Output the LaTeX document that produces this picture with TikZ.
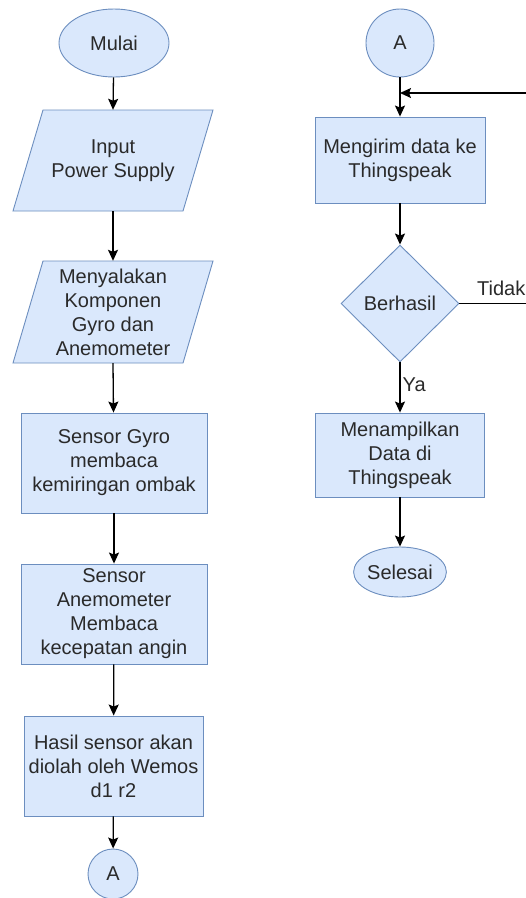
\documentclass[tikz,border=0pt]{standalone}
\usepackage{fontspec}
\setmainfont{Liberation Sans}
\usetikzlibrary{shapes.geometric,arrows.meta}
\definecolor{boxfill}{HTML}{DAE8FC}
\definecolor{boxline}{HTML}{6C8EBF}
\definecolor{txt}{HTML}{2A2A2A}
\begin{document}
\begin{tikzpicture}[x=1pt,y=-1pt,
  every node/.style={font=\fontsize{20}{24}\selectfont, text=txt},
  base/.style={draw=boxline, fill=boxfill, line width=0.9pt, align=center, inner sep=0pt},
  procbox/.style={base, rectangle},
  termin/.style={base, ellipse},
  conn/.style={base, circle},
  decis/.style={base, diamond},
  iobox/.style={rectangle, align=center, inner sep=0pt},
  flow/.style={draw=black, line width=1.3pt, -{Stealth[length=11pt,width=10pt,inset=2pt]}},
  plain/.style={draw=black, line width=1.3pt}
]
\useasboundingbox (0,0) rectangle (526,898);
\fill[white] (0,0) rectangle (526,898);

% left column
\node[termin, minimum width=110pt, minimum height=68pt] (mulai) at (114,43) {Mulai};

\fill[boxfill, draw=boxline, line width=0.9pt] (43,110) -- (213,110) -- (183,211) -- (13,211) -- cycle;
\node[iobox, minimum width=170pt, minimum height=101pt] (in1) at (113,160.5) {Input\\Power Supply};

\fill[boxfill, draw=boxline, line width=0.9pt] (43,261) -- (213,261) -- (183,363) -- (13,363) -- cycle;
\node[iobox, minimum width=170pt, minimum height=102pt] (in2) at (113,312) {Menyalakan\\Komponen\\Gyro dan\\Anemometer};

\node[procbox, minimum width=186pt, minimum height=100pt] (b1) at (114,463) {Sensor Gyro\\membaca\\kemiringan ombak};
\node[procbox, minimum width=186pt, minimum height=100pt] (b2) at (114,614) {Sensor\\Anemometer\\Membaca\\kecepatan angin};
\node[procbox, minimum width=179pt, minimum height=100pt] (b3) at (113.5,766) {Hasil sensor akan\\diolah oleh Wemos\\d1 r2};
\node[conn, minimum size=50pt] (aL) at (113,874) {A};

\draw[flow] (mulai) -- (in1.north);
\draw[flow] (in1.south) -- (in2.north);
\draw[flow] (in2.south) -- (b1);
\draw[flow] (b1) -- (b2);
\draw[flow] (b2) -- (b3);
\draw[flow] (b3) -- (aL);

% right column
\node[conn, minimum size=68pt] (aR) at (400,43) {A};
\node[procbox, minimum width=170pt, minimum height=86pt] (b4) at (400,160) {Mengirim data ke\\Thingspeak};
\node[decis, minimum width=118pt, minimum height=117pt] (dia) at (400,303.5) {Berhasil};
\node[procbox, minimum width=169pt, minimum height=84pt] (b5) at (400,455) {Menampilkan\\Data di\\Thingspeak};
\node[termin, minimum width=85pt, minimum height=50pt] (sel) at (400,572) {Selesai};

\coordinate (join) at (400,93);
\coordinate (far) at (545,303.5);

\draw[flow] (aR) -- (b4);
\draw[flow] (b4) -- (dia);
\draw[flow] (dia) -- node[right, inner sep=2pt, pos=0.45] (ya) {Ya} (b5);
\draw[flow] (b5) -- (sel);
\draw[flow] (dia.east) -- (far) |- (join);
\node[anchor=south west, inner sep=0pt] (tidak) at (477,296) {Tidak};
\end{tikzpicture}
\end{document}
